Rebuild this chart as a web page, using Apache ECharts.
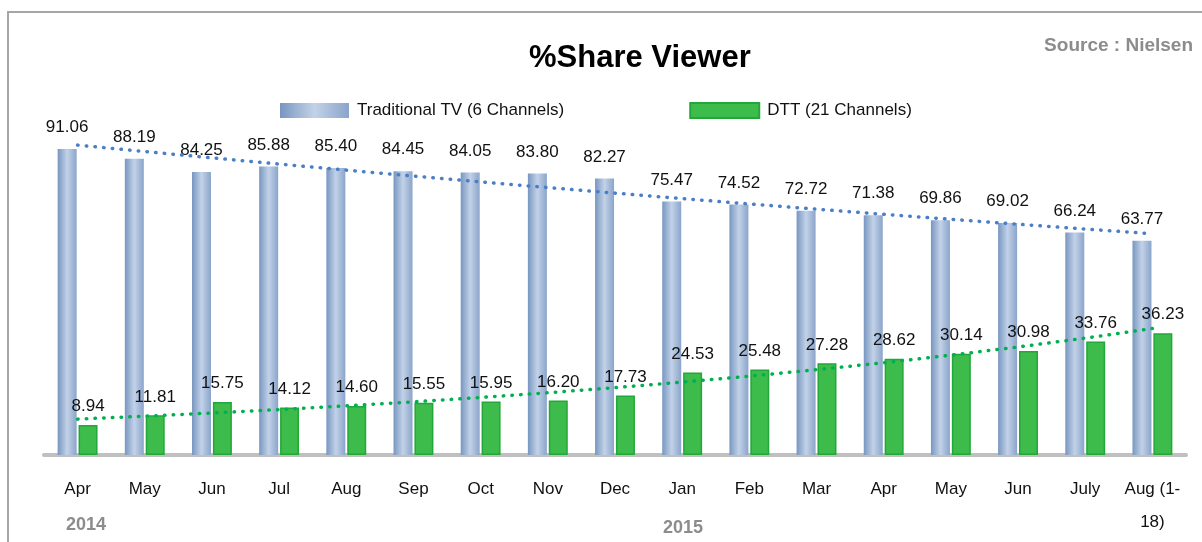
<!DOCTYPE html>
<html>
<head>
<meta charset="utf-8">
<script src="https://cdn.jsdelivr.net/npm/echarts@6/dist/echarts.min.js"></script>
<style>
  html, body { margin: 0; padding: 0; background: #fff; }
  #chart { width: 1202px; height: 542px; }
</style>
</head>
<body>
<div id="chart"></div>
<script>
// months (Apr 2014 .. Aug 2015)
const categories = ['Apr', 'May', 'Jun', 'Jul', 'Aug', 'Sep', 'Oct', 'Nov', 'Dec',
    'Jan', 'Feb', 'Mar', 'Apr', 'May', 'Jun', 'July', 'Aug (1-\n18)'];
const traditionalTV = [91.06, 88.19, 84.25, 85.88, 85.40, 84.45, 84.05, 83.80, 82.27,
    75.47, 74.52, 72.72, 71.38, 69.86, 69.02, 66.24, 63.77];
const dtt = [8.94, 11.81, 15.75, 14.12, 14.60, 15.55, 15.95, 16.20, 17.73,
    24.53, 25.48, 27.28, 28.62, 30.14, 30.98, 33.76, 36.23];
const yearLabels = ['2014', '2015'];

// exponential trendline (least squares on ln y), like excel does
function expTrend(values) {
    const n = values.length;
    const logs = values.map(v => Math.log(v));
    const mx = (n - 1) / 2;
    const my = logs.reduce((a, b) => a + b, 0) / n;
    let sxy = 0, sxx = 0;
    logs.forEach((ly, i) => {
        sxy += (i - mx) * (ly - my);
        sxx += (i - mx) * (i - mx);
    });
    const b = sxy / sxx;
    return values.map((v, i) => Math.exp(my + b * (i - mx)));
}

const tvTrend = expTrend(traditionalTV);
const dttTrend = expTrend(dtt);

const font = 'Liberation Sans, Arial, sans-serif';

const chart = echarts.init(document.getElementById('chart'));
chart.setOption({
    backgroundColor: '#fff',
    animation: false,
    textStyle: { fontFamily: font },
    title: [
        {
            text: '%Share Viewer',
            left: 524,
            top: 38,
            textStyle: { fontSize: 31, fontWeight: 'bold', color: '#000', fontFamily: font }
        },
        {
            text: 'Source : Nielsen',
            right: 4,
            top: 31,
            textStyle: { fontSize: 19, fontWeight: 'bold', color: '#8c8c8c', fontFamily: font }
        }
    ],
    legend: {
        left: 275,
        top: 97,
        itemWidth: 69,
        itemHeight: 15,
        itemGap: 125,
        icon: 'rect',
        data: ['Traditional TV (6 Channels)', 'DTT (21 Channels)'],
        textStyle: { fontSize: 17, color: '#111', fontFamily: font, padding: [0, 0, 0, 3] }
    },
    grid: { left: 44, right: 16, top: 119, bottom: 87 },
    xAxis: {
        type: 'category',
        data: categories,
        axisTick: { show: false },
        axisLine: { lineStyle: { color: '#c0c0c0', width: 4 } },
        axisLabel: { interval: 0, fontSize: 17, color: '#111', margin: 18, lineHeight: 33, fontFamily: font }
    },
    yAxis: {
        type: 'value',
        min: 0,
        max: 100,
        show: false,
        splitLine: { show: false }
    },
    graphic: [
        {
            type: 'rect',
            shape: { x: 8, y: 12, width: 1220, height: 560 },
            style: { fill: 'none', stroke: '#a6a6a6', lineWidth: 2 },
            silent: true
        },
        {
            type: 'text',
            left: 66, top: 516,
            style: { text: yearLabels[0], fill: '#8c8c8c', font: 'bold 18px ' + font }
        },
        {
            type: 'text',
            left: 663, top: 519,
            style: { text: yearLabels[1], fill: '#8c8c8c', font: 'bold 18px ' + font }
        }
    ],
    series: [
        {
            name: 'Traditional TV (6 Channels)',
            type: 'bar',
            data: traditionalTV,
            barWidth: 19,
            barGap: '10%',
            itemStyle: {
                color: new echarts.graphic.LinearGradient(0, 0, 1, 0, [
                    { offset: 0, color: '#7896c0' },
                    { offset: 0.5, color: '#c2d2e8' },
                    { offset: 1, color: '#8aa4ca' }
                ])
            },
            label: {
                show: true,
                position: 'top',
                distance: 13,
                fontSize: 17,
                color: '#111',
                fontFamily: font,
                formatter: p => p.value.toFixed(2)
            },
            z: 2
        },
        {
            name: 'DTT (21 Channels)',
            type: 'bar',
            data: dtt,
            barWidth: 19,
            itemStyle: {
                color: '#3dbb4b',
                borderColor: '#22a83a',
                borderWidth: 1.5
            },
            label: {
                show: true,
                position: 'top',
                distance: 10,
                fontSize: 17,
                color: '#111',
                fontFamily: font,
                formatter: p => p.value.toFixed(2)
            },
            z: 2
        },
        {
            name: 'tvTrend',
            type: 'line',
            data: tvTrend,
            symbol: 'none',
            silent: true,
            lineStyle: { color: '#4a7ec6', width: 3.5, type: [0.5, 8.2], cap: 'round' },
            z: 5
        },
        {
            name: 'dttTrend',
            type: 'line',
            data: dttTrend,
            symbol: 'none',
            silent: true,
            lineStyle: { color: '#00b050', width: 3.5, type: [0.5, 8.2], cap: 'round' },
            z: 5
        }
    ]
});
</script>
</body>
</html>
